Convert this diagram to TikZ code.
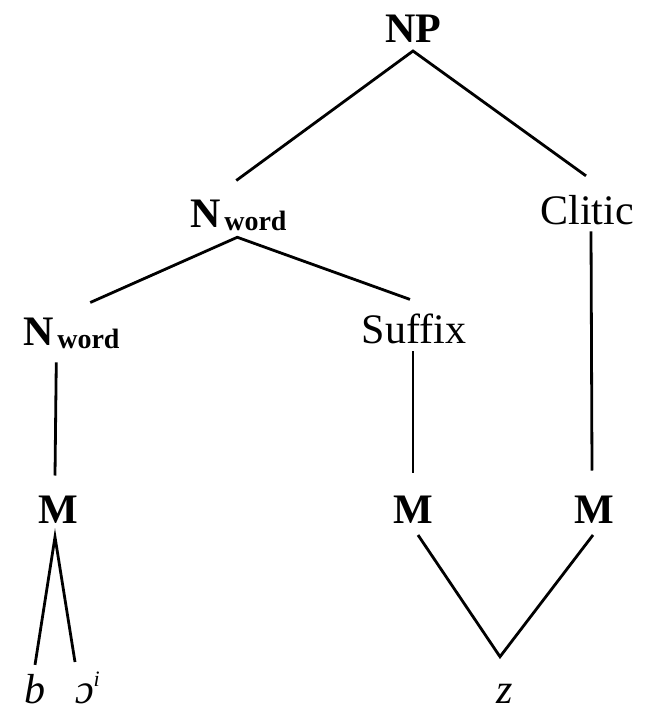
\documentclass[tikz,border=0pt]{standalone}
\usepackage{fontspec}
\setmainfont{Liberation Serif}
\begin{document}
\begin{tikzpicture}[x=1pt,y=-1pt,
  lab/.style={inner sep=0pt,outer sep=0pt,font=\fontsize{42}{42}\selectfont},
  blab/.style={lab,font=\fontsize{42}{42}\selectfont\bfseries},
  ilab/.style={lab,font=\fontsize{42}{42}\selectfont\itshape},
  edge/.style={line width=2.8pt,line join=miter,line cap=butt}]
\useasboundingbox (0,0) rectangle (645,711);
% nodes
\node[blab,anchor=base] (NP) at (413,43) {NP};
\node[blab,anchor=base west] (Nw1) at (190,227) {N\hspace{4pt}\raisebox{-3pt}{\fontsize{28}{28}\selectfont\bfseries word}};
\node[lab,anchor=base] (Cl) at (587,225) {Clitic};
\node[blab,anchor=base west] (Nw2) at (23,345) {N\hspace{4pt}\raisebox{-3pt}{\fontsize{28}{28}\selectfont\bfseries word}};
\node[lab,anchor=base] (Suf) at (414,343) {Suffix};
\node[blab,anchor=base] (M1) at (58,523) {M};
\node[blab,anchor=base] (M2) at (413,523) {M};
\node[blab,anchor=base] (M3) at (594,523) {M};
\node[ilab,anchor=base] (b) at (35,703) {b};
\node[ilab,anchor=base west] (o) at (75,703) {ɔ\hspace{0pt}\raisebox{17pt}{\fontsize{22}{22}\selectfont\itshape i}};
\node[ilab,anchor=base] (z) at (505,703) {z};
% connectors
\draw[edge] ([shift={(-2,-19)}]Nw1.north) -- ([shift={(0,8)}]NP.south) -- ([shift={(-1,-20)}]Cl.north);
\draw[edge] ([shift={(19,-15)}]Nw2.north) -- ([shift={(-1,7)}]Nw1.south) -- ([shift={(-4,-14)}]Suf.north);
\draw[edge] ([shift={(-15,14)}]Nw2.south) -- ([shift={(-3,-20)}]M1.north);
\draw[edge] ([shift={(-1,8)}]Suf.south) -- ([shift={(0,-23)}]M2.north);
\draw[edge] ([shift={(4,6)}]Cl.south) -- ([shift={(-2,-25)}]M3.north);
\draw[edge] ([shift={(0,-9)}]b.north) -- ([shift={(-3,14)}]M1.south) -- ([shift={(0,-41)}]o.base west);
\draw[edge] ([shift={(5,12)}]M2.south) -- ([shift={(-5,-27)}]z.north) -- ([shift={(-1,12)}]M3.south);
\end{tikzpicture}
\end{document}
